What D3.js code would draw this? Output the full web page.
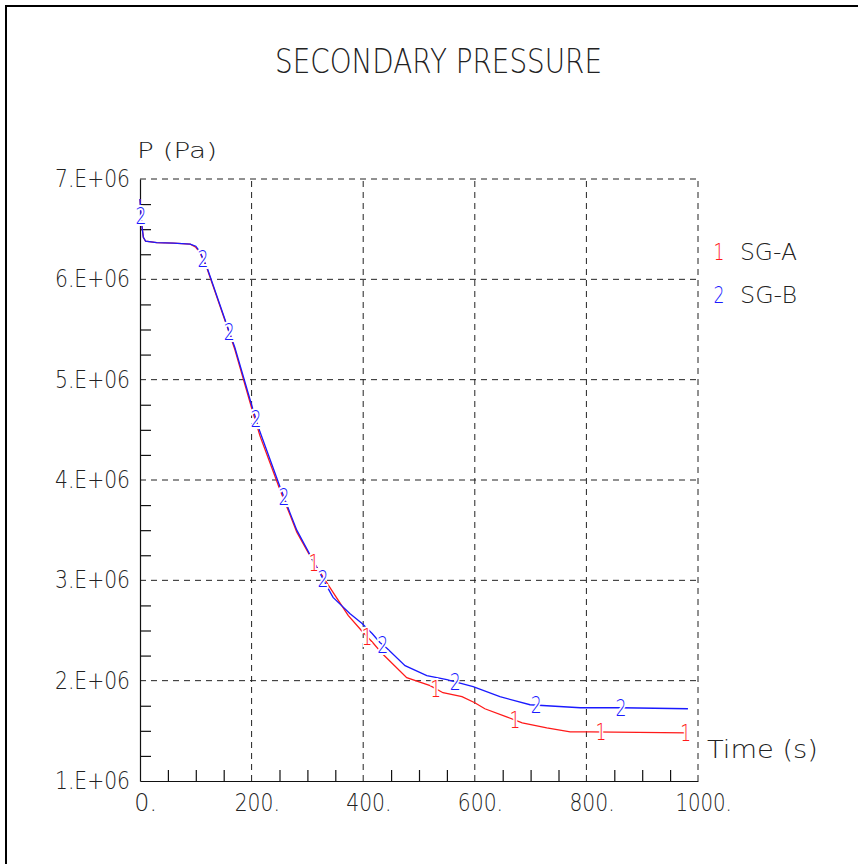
<!DOCTYPE html>
<html>
<head>
<meta charset="utf-8">
<script src="https://cdn.jsdelivr.net/npm/d3@7"></script>
<style>
  html, body { margin: 0; padding: 0; background: #fff; }
  text { font-family: "DejaVu Sans", "Liberation Sans", sans-serif; font-weight: 200; fill: #222; }
</style>
</head>
<body>
<svg id="chart" width="858" height="864"></svg>
<script>
// SG-A (curve 1), time in s, pressure in MPa
const timeA = [0, 3, 6, 10, 30, 60, 90, 100, 107, 120, 156, 170, 201, 215, 251, 269, 281, 310, 346, 373, 400, 417, 434, 478, 520, 543, 577, 600, 618, 657, 685, 729, 771, 806, 980];
const presA = [6.80, 6.55, 6.42, 6.38, 6.365, 6.36, 6.35, 6.32, 6.27, 6.11, 5.53, 5.30, 4.70, 4.44, 3.90, 3.65, 3.48, 3.19, 2.88, 2.65, 2.48, 2.38, 2.27, 2.03, 1.95, 1.88, 1.84, 1.78, 1.72, 1.64, 1.58, 1.53, 1.49, 1.49, 1.48];
// SG-B (curve 2)
const timeB = [0, 3, 6, 10, 30, 60, 90, 100, 107, 120, 156, 170, 201, 215, 251, 269, 281, 310, 337, 346, 376, 398, 416, 430, 443, 475, 514, 550, 597, 645, 699, 729, 789, 862, 982];
const presB = [6.80, 6.55, 6.42, 6.38, 6.365, 6.36, 6.35, 6.33, 6.28, 6.12, 5.54, 5.32, 4.73, 4.48, 3.93, 3.67, 3.50, 3.20, 2.92, 2.83, 2.67, 2.57, 2.47, 2.38, 2.32, 2.15, 2.05, 2.01, 1.94, 1.84, 1.76, 1.75, 1.73, 1.73, 1.72];
// where the curve number markers sit (the earlier "1" markers are hidden under the "2"s)
const markA = [312, 407, 530, 672, 826, 978];
const markB = [2, 113, 160, 208, 258, 328, 435, 565, 710, 862];

const xTicks = [0, 200, 400, 600, 800, 1000];
const xTickLabels = ["0.", "200.", "400.", "600.", "800.", "1000."];
const yTicks = [1e6, 2e6, 3e6, 4e6, 5e6, 6e6, 7e6];
const yTickLabels = ["1.E+06", "2.E+06", "3.E+06", "4.E+06", "5.E+06", "6.E+06", "7.E+06"];

const series = [
  { id: "1", name: "SG-A", color: "#ff1a1a", t: timeA, p: presA, marks: markA },
  { id: "2", name: "SG-B", color: "#1a1aff", t: timeB, p: presB, marks: markB }
];

const svg = d3.select("#chart");
const x = d3.scaleLinear().domain([0, 1000]).range([140, 698]);
const y = d3.scaleLinear().domain([1e6, 7e6]).range([781, 179]);

function txt(g, s, px, py, size, width, anchor) {
  const t = g.append("text")
    .attr("x", px).attr("y", py)
    .attr("font-size", size)
    .attr("text-anchor", anchor || "start")
    .text(s);
  if (width) t.attr("textLength", width).attr("lengthAdjust", "spacingAndGlyphs");
  return t;
}

// frame
svg.append("rect").attr("x", 6).attr("y", 6).attr("width", 900).attr("height", 900)
  .attr("fill", "none").attr("stroke", "#000").attr("stroke-width", 2);

// title
txt(svg, "SECONDARY PRESSURE", 275, 73, 34, 327);

// grid
const grid = svg.append("g").attr("stroke", "#222").attr("stroke-width", 1).attr("stroke-dasharray", "6,5");
grid.selectAll(".gx").data(xTicks.slice(1)).enter().append("line")
  .attr("x1", d => x(d)).attr("x2", d => x(d)).attr("y1", y(1e6)).attr("y2", y(7e6));
grid.selectAll(".gy").data(yTicks.slice(1)).enter().append("line")
  .attr("x1", x(0)).attr("x2", x(1000)).attr("y1", d => y(d)).attr("y2", d => y(d));

// axes with minor ticks
const minorX = d3.range(0, 1001, 50).filter(d => d % 200 !== 0);
const minorY = d3.range(1e6, 7e6 + 1, 0.25e6).filter(d => d % 1e6 !== 0);
const ax = svg.append("g").attr("transform", `translate(0,${y(1e6)})`)
  .call(d3.axisBottom(x).tickValues(minorX).tickSize(-11).tickSizeOuter(0).tickFormat(""));
const ay = svg.append("g").attr("transform", `translate(${x(0)},0)`)
  .call(d3.axisLeft(y).tickValues(minorY).tickSize(-11).tickSizeOuter(0).tickFormat(""));
[ax, ay].forEach(a => {
  a.selectAll("path, line").attr("stroke", "#111").attr("stroke-width", 1.2);
});

// tick labels
const tl = svg.append("g");
xTicks.forEach((v, i) => {
  const s = xTickLabels[i];
  const cw = 11.3;
  const digits = s.length - 1;
  txt(tl, s, x(v) - digits * cw / 2, 811, 25, s.length * cw);
});
yTicks.forEach((v, i) => {
  txt(tl, yTickLabels[i], 130, y(v) + 8, 24, 75, "end");
});

// axis titles
txt(svg, "P (Pa)", 137, 158, 22, 80);
txt(svg, "Time (s)", 707, 758, 25, 111);

// curves
const line = d3.line().x(d => x(d[0])).y(d => y(d[1] * 1e6));
series.forEach(s => {
  const pts = s.t.map((t, i) => [t, s.p[i]]);
  svg.append("path").datum(pts)
    .attr("d", line)
    .attr("fill", "none")
    .attr("stroke", s.color)
    .attr("stroke-width", 1.3);
});

// curve markers (number drawn over a white halo that breaks the line)
series.forEach(s => {
  const interp = d3.scaleLinear().domain(s.t).range(s.p);
  const g = svg.append("g");
  s.marks.forEach(t => {
    g.append("text")
      .attr("x", x(t)).attr("y", y(interp(t) * 1e6) + 8)
      .attr("font-size", 23)
      .attr("text-anchor", "middle")
      .attr("textLength", 11).attr("lengthAdjust", "spacingAndGlyphs")
      .style("fill", s.color)
      .attr("stroke", "#fff").attr("stroke-width", 4)
      .attr("paint-order", "stroke")
      .text(s.id);
  });
});

// legend
const leg = svg.append("g");
series.forEach((s, i) => {
  const by = 260 + i * 43;
  txt(leg, s.id, 719, by, 23, 11, "middle").style("fill", s.color);
  txt(leg, s.name, 740, by, 23, 57);
});
</script>
</body>
</html>
